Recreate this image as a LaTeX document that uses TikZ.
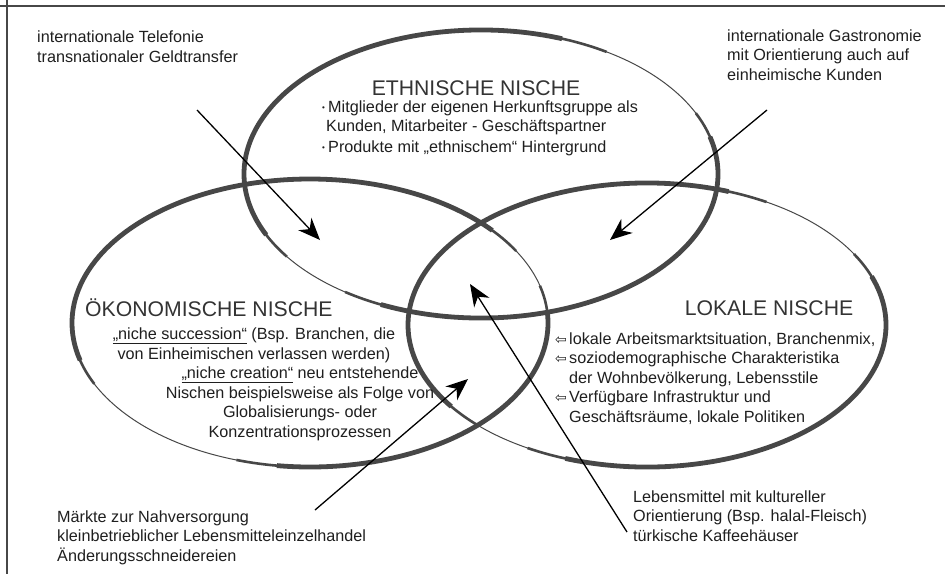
\documentclass[tikz,border=0pt]{standalone}
\usepackage{fontspec}
\setmainfont{Liberation Sans}
\newfontfamily\symfont{DejaVu Sans}
\usepackage{xcolor}
\usetikzlibrary{arrows.meta}

\definecolor{rimgray}{gray}{0.28}
\definecolor{txtgray}{gray}{0.12}
\definecolor{headgray}{gray}{0.2}
\newcommand{\pfeilsym}{\makebox[14pt][l]{\symfont\fontsize{14}{14}\selectfont ⇦}}
\newcommand{\punkt}{\makebox[6pt][l]{\raisebox{1.5pt}{\fontsize{8}{8}\selectfont •}}}

\begin{document}
\begin{tikzpicture}[x=1pt,y=1pt,
    rim/.style={draw=rimgray, line width=1pt},
    midrim/.style={draw=rimgray, line width=2.6pt},
    thickrim/.style={draw=rimgray, line width=4.8pt},
    info/.style={font=\fontsize{16.2}{19.5}\selectfont, text=txtgray, inner sep=0pt},
    heading/.style={font=\fontsize{21.2}{24}\selectfont, text=headgray, inner sep=0pt},
    pfeil/.style={-{Stealth[length=22pt,width=18pt,inset=7pt]}, line width=1.3pt, black}]
    \useasboundingbox (0,0) rectangle (945,-574);
    \fill[white] (0,0) rectangle (945,-574);
    % frame
    \draw[rimgray, line width=1.5pt] (0,-6) -- (945,-6);
    \draw[rimgray, line width=1.5pt] (7,0) -- (7,-574);

    % ellipses
    \coordinate (ethnic) at (481,-174);
    \coordinate (oekonom) at (310,-323);
    \coordinate (lokal) at (647,-325);
    \draw[rim] (ethnic) ellipse (237 and 144);
    \draw[midrim] (ethnic) ++(58:237 and 144) arc (58:215:237 and 144);
    \draw[thickrim] (ethnic) ++(70:237 and 144) arc (70:205:237 and 144);
    \draw[midrim] (ethnic) ++(235:237 and 144) arc (235:385:237 and 144);
    \draw[thickrim] (ethnic) ++(245:237 and 144) arc (245:375:237 and 144);
    \draw[rim] (oekonom) ellipse (238 and 144);
    \draw[midrim] (oekonom) ++(30:238 and 144) arc (30:205:238 and 144);
    \draw[thickrim] (oekonom) ++(40:238 and 144) arc (40:195:238 and 144);
    \draw[midrim] (oekonom) ++(252:238 and 144) arc (252:375:238 and 144);
    \draw[thickrim] (oekonom) ++(262:238 and 144) arc (262:365:238 and 144);
    \draw[rim] (lokal) ellipse (239 and 142);
    \draw[midrim] (lokal) ++(60:239 and 142) arc (60:225:239 and 142);
    \draw[thickrim] (lokal) ++(70:239 and 142) arc (70:215:239 and 142);
    \draw[midrim] (lokal) ++(240:239 and 142) arc (240:390:239 and 142);
    \draw[thickrim] (lokal) ++(250:239 and 142) arc (250:380:239 and 142);

    % headings
    \node[heading, anchor=base] (ethnicHead) at (476,-95) {ETHNISCHE NISCHE};
    \node[heading, anchor=base west] (oekonomHead) at (85,-316) {ÖKONOMISCHE NISCHE};
    \node[heading, anchor=base] (lokalHead) at (769,-315) {LOKALE NISCHE};

    % texts inside (base = last line)
    \node[info, anchor=base west, align=left] (ethnicList) at (322,-152)
        {\punkt Mitglieder der eigenen Herkunftsgruppe als\\
         \hspace*{4pt}Kunden, Mitarbeiter - Geschäftspartner\\[1pt]
         \punkt Produkte mit „ethnischem“ Hintergrund};
    \node[info, anchor=base, align=center] (succession) at (254,-359)
        {\underline{„niche succession“} (Bsp. Branchen, die\\
         von Einheimischen verlassen werden)};
    \node[info, anchor=base, align=center] (creation) at (300,-437)
        {\underline{„niche creation“} neu entstehende\\
         Nischen beispielsweise als Folge von\\
         Globalisierungs- oder\\
         Konzentrationsprozessen};
    \node[info, anchor=base west, align=left] (lokalList) at (555,-422)
        {\pfeilsym lokale Arbeitsmarktsituation, Branchenmix,\\
         \pfeilsym soziodemographische Charakteristika\\
         \hspace*{14pt}der Wohnbevölkerung, Lebensstile\\
         \pfeilsym Verfügbare Infrastruktur und\\
         \hspace*{14pt}Geschäftsräume, lokale Politiken};

    % texts outside
    \node[info, anchor=base west, align=left] (telefonie) at (37,-62)
        {internationale Telefonie\\transnationaler Geldtransfer};
    \node[info, anchor=base west, align=left] (gastro) at (727,-80)
        {internationale Gastronomie\\mit Orientierung auch auf\\einheimische Kunden};
    \node[info, anchor=base west, align=left] (maerkte) at (57,-561)
        {Märkte zur Nahversorgung\\kleinbetrieblicher Lebensmitteleinzelhandel\\Änderungsschneidereien};
    \node[info, anchor=base west, align=left] (lebensmittel) at (633,-541)
        {Lebensmittel mit kultureller\\Orientierung (Bsp. halal-Fleisch)\\türkische Kaffeehäuser};

    % arrows
    \coordinate (telefonieTail) at (197,-110);
    \coordinate (telefonieTip) at (320,-240);
    \coordinate (gastroTail) at (767,-110);
    \coordinate (gastroTip) at (610,-240);
    \coordinate (lebensmittelTail) at (627,-532);
    \coordinate (lebensmittelTip) at (470,-284);
    \coordinate (maerkteTail) at (315,-510);
    \coordinate (maerkteTip) at (468,-379);
    \draw[pfeil] (telefonieTail) -- (telefonieTip);
    \draw[pfeil] (gastroTail) -- (gastroTip);
    \draw[pfeil] (lebensmittelTail) -- (lebensmittelTip);
    \draw[pfeil] (maerkteTail) -- (maerkteTip);
\end{tikzpicture}
\end{document}
